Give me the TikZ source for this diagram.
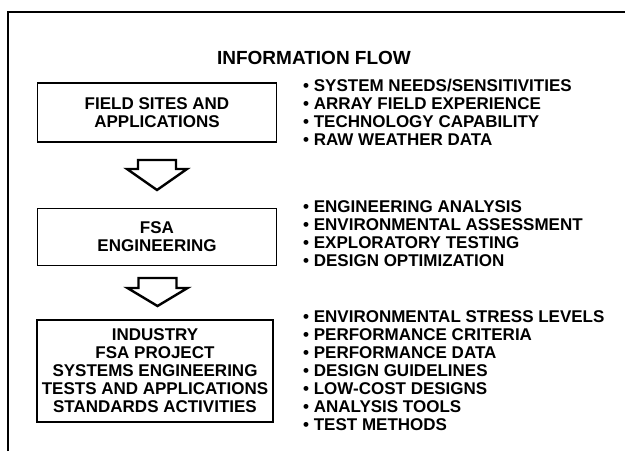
\documentclass[tikz,border=0pt]{standalone}
\usepackage{fontspec}
\setmainfont{Liberation Sans}
\begin{document}
\begin{tikzpicture}[x=1pt,y=-1pt,
  txt/.style={font=\bfseries\fontsize{17}{18}\selectfont},
  flowbox/.style={txt,draw,line width=1.8pt,align=center,minimum width=239pt,inner sep=0pt},
  itemlist/.style={txt,anchor=west,align=left,inner sep=0pt},
  blockarrow/.style={draw,line width=2.4pt,fill=white,line join=miter}]
\useasboundingbox (0,0) rectangle (625,451);
% frame
\draw[line width=2.6pt] (8,451) -- (8,12) -- (625,12);
% title
\node[font=\bfseries\fontsize{19}{20}\selectfont] (title) at (314,58) {INFORMATION FLOW};
% boxes
\node[flowbox,minimum height=59pt] (b1) at (157,112.5) {FIELD SITES AND\\APPLICATIONS};
\node[flowbox,minimum height=57pt] (b2) at (157,237) {FSA\\ENGINEERING};
\node[flowbox,minimum width=236pt,minimum height=102pt] (b3) at (155,371) {INDUSTRY\\FSA PROJECT\\SYSTEMS ENGINEERING\\TESTS AND APPLICATIONS\\STANDARDS ACTIVITIES};
% lists
\node[itemlist] (l1) at (303,112) {• SYSTEM NEEDS/SENSITIVITIES\\• ARRAY FIELD EXPERIENCE\\• TECHNOLOGY CAPABILITY\\• RAW WEATHER DATA};
\node[itemlist] (l2) at (303,234) {• ENGINEERING ANALYSIS\\• ENVIRONMENTAL ASSESSMENT\\• EXPLORATORY TESTING\\• DESIGN OPTIMIZATION};
\node[itemlist] (l3) at (303,371) {• ENVIRONMENTAL STRESS LEVELS\\• PERFORMANCE CRITERIA\\• PERFORMANCE DATA\\• DESIGN GUIDELINES\\• LOW-COST DESIGNS\\• ANALYSIS TOOLS\\• TEST METHODS};
% block arrows
\coordinate (a1) at (157,160);
\coordinate (a2) at (157.5,278);
\draw[blockarrow] (a1) ++(-19,0) -- ++(38,0) -- ++(0,9) -- ++(11,0) -- ++(-30,21) -- ++(-30,-21) -- ++(11,0) -- cycle;
\draw[blockarrow] (a2) ++(-19,0) -- ++(38,0) -- ++(0,10) -- ++(11,0) -- ++(-30,18) -- ++(-30,-18) -- ++(11,0) -- cycle;
\end{tikzpicture}
\end{document}
